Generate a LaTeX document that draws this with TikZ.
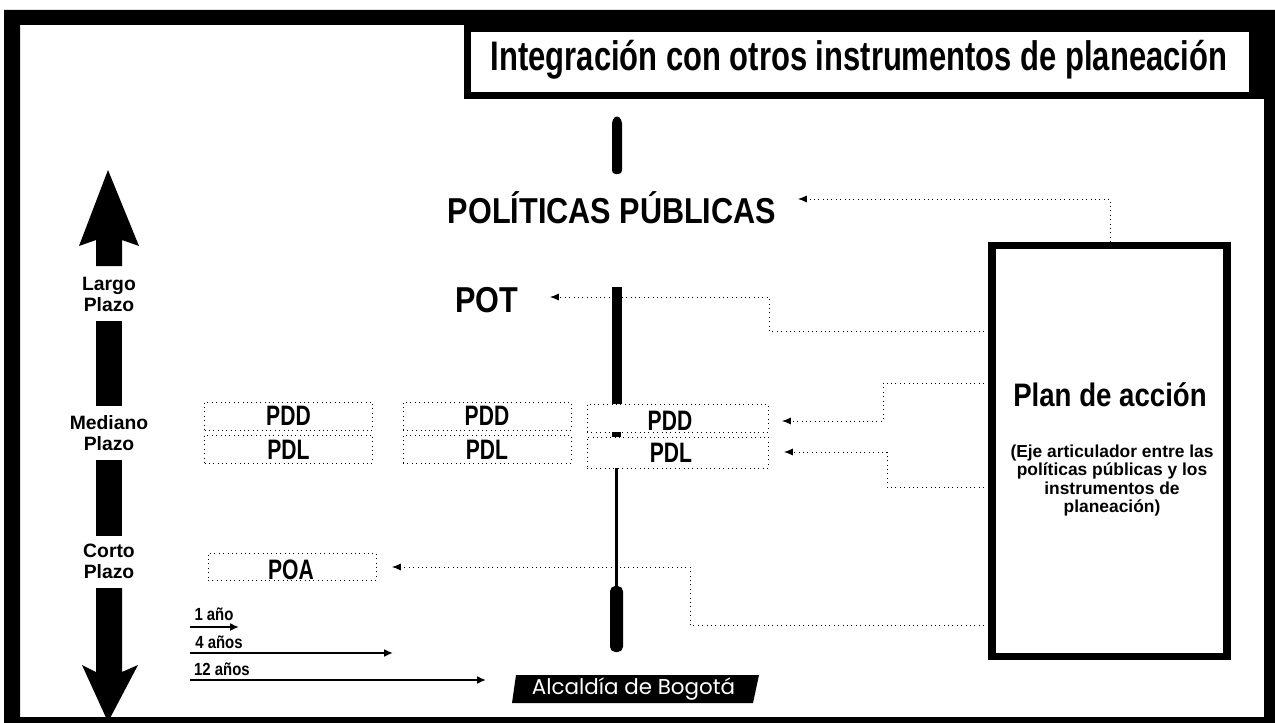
\documentclass[tikz,border=0pt]{standalone}
\usepackage{fontspec}
\setmainfont{Liberation Sans}
\newfontfamily\narrowfont[FakeStretch=0.85]{Liberation Sans}
\newfontfamily\tightfont[FakeStretch=0.75]{Liberation Sans}
\newfontfamily\badgefont{Poppins}
\usetikzlibrary{arrows.meta}

\tikzset{
	plazo/.style={align=center, inner sep=0pt, font=\bfseries\fontsize{11}{12}\selectfont},
	plan/.style={draw=none, fill=none, font=\tightfont\bfseries\fontsize{16}{18}\selectfont, inner sep=0pt},
	dotbox/.style={draw=black, line width=0.5pt, dotted, fill=white, inner sep=0pt,
		minimum width=168*0.02cm, minimum height=28*0.02cm},
	link/.style={line width=0.5pt, dotted, -{Latex[length=5pt,width=4pt]}},
	time/.style={line width=1.5pt, -{Latex[length=5pt,width=4.5pt]}},
	timelabel/.style={inner sep=0pt, font=\narrowfont\bfseries\fontsize{10}{11}\selectfont}
}

\begin{document}
\begin{tikzpicture}[x=0.02cm, y=-0.02cm]
	\useasboundingbox (0,0) rectangle (1275,723);

	% Marco
	\fill[black, even odd rule] (4,10) rectangle (1275,723) (20,25) rectangle (1264,717);
	\fill[black] (1250,25) rectangle (1264,99);
	\node[draw=black, line width=4pt, minimum width=785*0.02cm, minimum height=67*0.02cm, inner sep=0pt] (titulo) at (860,62) {};
	\node[inner sep=0pt, font=\tightfont\bfseries\fontsize{23.5}{26}\selectfont] (titulotexto) at (859,60)
		{Integración con otros instrumentos de planeación};

	% Plazos
	\fill[black] (108,170) -- (139,246) -- (122,240) -- (122,266) -- (96,266) -- (96,240) -- (79,246) -- cycle;
	\fill[black] (96,321) rectangle (122,406);
	\fill[black] (96,460) rectangle (122,536);
	\fill[black] (108,722) -- (138,665) -- (122,672) -- (122,588) -- (96,588) -- (96,672) -- (82,665) -- cycle;
	\node[plazo] (largo) at (109,294) {Largo\\Plazo};
	\node[plazo] (mediano) at (109,433) {Mediano\\Plazo};
	\node[plazo] (corto) at (109,561) {Corto\\Plazo};

	% Eje
	\fill[black, rounded corners=2pt] (612,174) -- (612,120) -- (617,115) -- (622,120) -- (622,174) -- cycle;
	\fill[black] (612,287) rectangle (622,404);
	\fill[black] (612,432) rectangle (621,437);
	\fill[black] (615,468) rectangle (618,587);
	\fill[black, rounded corners=3pt] (610,586) rectangle (623,652);

	% Textos
	\node[inner sep=0pt, font=\narrowfont\bfseries\fontsize{20.5}{24}\selectfont] (politicas) at (612,208) {POLÍTICAS PÚBLICAS};
	\node[inner sep=0pt, font=\narrowfont\bfseries\fontsize{20.5}{24}\selectfont] (pot) at (486.5,300) {POT};

	% Planes
	\foreach \x/\n in {288.5/a,487/b}
	{
	\node[dotbox] (pdd\n) at (\x,416) {};
	\node[dotbox] (pdl\n) at (\x,449) {};
	\node[plan] at (\x,416) {PDD};
	\node[plan] at (\x,450) {PDL};
	}
	\node[dotbox, minimum width=181*0.02cm] (pddc) at (677.5,418) {};
	\node[dotbox, minimum width=181*0.02cm, minimum height=31*0.02cm] (pdlc) at (677.5,452.5) {};
	\node[plan] at (670,421) {PDD};
	\node[plan] at (671,453) {PDL};
	\node[dotbox, minimum height=27*0.02cm] (poa) at (292,566.5) {};
	\node[plan] at (291,570) {POA};

	% Plan de accion
	\node[draw=black, line width=4pt, minimum width=235*0.02cm, minimum height=411*0.02cm, inner sep=0pt] (accion) at (1109.5,451) {};
	\node[inner sep=0pt, font=\narrowfont\bfseries\fontsize{18.5}{22}\selectfont] (planaccion) at (1110,395) {Plan de acción};
	\node[inner sep=0pt, align=center, font=\bfseries\fontsize{9.9}{10.5}\selectfont] (eje) at (1112,480.5)
		{(Eje articulador entre las\\políticas públicas y los\\instrumentos de\\planeación)};

	% Conectores
	\coordinate (pa) at (1110,199);
	\coordinate (pb) at (798,199);
	\coordinate (ca) at (769,331);
	\coordinate (cb) at (769,297);
	\coordinate (cc) at (550,297);
	\coordinate (da) at (883,383);
	\coordinate (db) at (883,421);
	\coordinate (dc) at (782,421);
	\coordinate (la) at (887,487);
	\coordinate (lb) at (887,452);
	\coordinate (lc) at (784,452);
	\coordinate (oa) at (690,625);
	\coordinate (ob) at (690,567);
	\coordinate (oc) at (392,567);
	\draw[link] (accion.north -| pa) -- (pa) -- (pb);
	\draw[link] (accion.west |- ca) -- (ca) -- (cb) -- (cc);
	\draw[link] (accion.west |- da) -- (da) -- (db) -- (dc);
	\draw[link] (accion.west |- la) -- (la) -- (lb) -- (lc);
	\draw[link] (accion.west |- oa) -- (oa) -- (ob) -- (oc);

	% Escala
	\coordinate (inicio) at (190,627);
	\foreach \y/\xf/\ty/\tx/\t in {627/239/614/214/1 año, 653/393/642/219/4 años, 680/486/669/222/12 años}
	{
	\node[timelabel] at (\tx,\ty) {\t};
	\coordinate (fin) at (\xf,\y);
	\draw[time] (inicio |- fin) -- (fin);
	}

	% Alcaldia
	\fill[black] (516,675) -- (759,675) -- (753,703) -- (512,703) -- cycle;
	\node[inner sep=0pt, text=white, font=\badgefont\fontsize{12.2}{13}\selectfont] (alcaldia) at (633.5,689.5) {Alcaldía de Bogotá};
\end{tikzpicture}
\end{document}
